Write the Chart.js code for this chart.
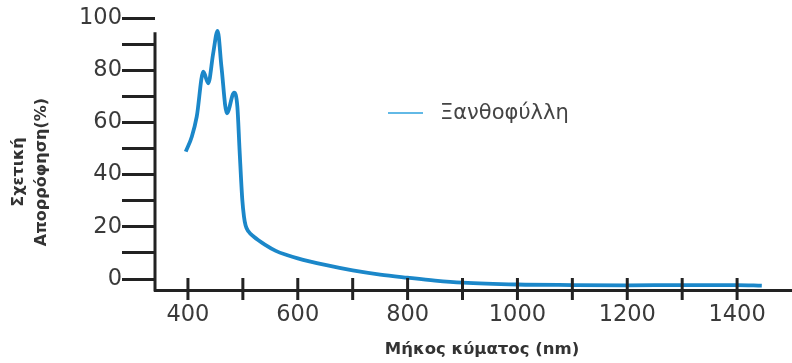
<!DOCTYPE html>
<html>
<head>
<meta charset="utf-8">
<script src="https://cdn.jsdelivr.net/npm/chart.js@4"></script>
<style>
  html, body { margin: 0; padding: 0; background: #fff; }
  #wrap { width: 792px; height: 363px; }
</style>
</head>
<body>
<div id="wrap"><canvas id="xanthChart"></canvas></div>
<script>
// wavelength (nm) and relative absorption (%)
const wavelengths = [396, 407, 416, 428, 437, 446, 454, 461, 471, 484, 490, 494, 499, 502, 505, 510, 520, 540, 560, 580, 600, 650, 700, 750, 800, 850, 900, 1000, 1100, 1200, 1300, 1400, 1445];
const absorption = [48.8, 54.5, 62.2, 79.4, 75, 86.5, 95.1, 81.3, 63.5, 71.4, 66, 49.4, 30.3, 24, 20.5, 18.3, 16.2, 13.2, 10.8, 9.2, 7.9, 5.4, 3.3, 1.7, 0.5, -0.6, -1.4, -2.1, -2.3, -2.4, -2.3, -2.3, -2.5];
const seriesLabel = 'Ξανθοφύλλη';

const xTickValues = [400, 500, 600, 700, 800, 900, 1000, 1100, 1200, 1300, 1400];
const xLabelValues = [400, 600, 800, 1000, 1200, 1400];
const yTickValues = [0, 10, 20, 30, 40, 50, 60, 70, 80, 90, 100];
const yLabelValues = [0, 20, 40, 60, 80, 100];

const xTitle = 'Μήκος κύματος (nm)';
const yTitle = ['Σχετική', 'Απορρόφηση(%)'];

const axisColor = '#222';
const textColor = '#3a3a3a';

// x ticks cross the axis line, the legend sits inside the plot,
// and the axis titles are off-centre in the original, so draw them here
const axisMarks = {
    id: 'axisMarks',
    afterDraw(chart) {
        const ctx = chart.ctx;
        const xs = chart.scales.x;
        const ys = chart.scales.y;
        const bottom = chart.chartArea.bottom;
        ctx.save();
        ctx.strokeStyle = axisColor;
        ctx.lineWidth = 3;
        xTickValues.forEach(v => {
            const px = xs.getPixelForValue(v);
            ctx.beginPath();
            ctx.moveTo(px, bottom - 12);
            ctx.lineTo(px, bottom + 10);
            ctx.stroke();
        });
        // y axis line (starts a bit below the 100 tick)
        ctx.beginPath();
        ctx.moveTo(chart.chartArea.left, ys.getPixelForValue(94.5));
        ctx.lineTo(chart.chartArea.left, bottom + 1.5);
        ctx.stroke();

        // legend
        const ds = chart.data.datasets[0];
        ctx.strokeStyle = '#62b9e6';
        ctx.lineWidth = 2;
        ctx.beginPath();
        ctx.moveTo(388, 113);
        ctx.lineTo(423, 113);
        ctx.stroke();
        ctx.fillStyle = '#444';
        ctx.font = '21px "DejaVu Sans", sans-serif';
        ctx.textBaseline = 'middle';
        ctx.textAlign = 'left';
        ctx.fillText(ds.label, 440, 114);

        // axis titles
        ctx.fillStyle = '#333';
        ctx.textAlign = 'center';
        ctx.font = 'bold 16.5px "DejaVu Sans", sans-serif';
        ctx.fillText(xTitle, 482, 350);
        ctx.font = 'bold 16px "DejaVu Sans", sans-serif';
        ctx.translate(0, 172);
        ctx.rotate(-Math.PI / 2);
        ctx.fillText(yTitle[0], 0, 19);
        ctx.fillText(yTitle[1], 0, 42);
        ctx.restore();
    }
};

const ctx = document.getElementById('xanthChart').getContext('2d');
new Chart(ctx, {
    type: 'line',
    data: {
        datasets: [{
            label: seriesLabel,
            data: wavelengths.map((w, i) => ({ x: w, y: absorption[i] })),
            borderColor: '#1b87c9',
            borderWidth: 3.8,
            pointRadius: 0,
            fill: false,
            cubicInterpolationMode: 'monotone'
        }]
    },
    options: {
        responsive: true,
        maintainAspectRatio: false,
        animation: false,
        layout: { padding: { top: 18, right: 0, left: 0, bottom: 0 } },
        plugins: {
            legend: { display: false },
            tooltip: { enabled: false }
        },
        scales: {
            x: {
                type: 'linear',
                min: 340,
                max: 1500,
                afterBuildTicks: s => { s.ticks = xTickValues.map(v => ({ value: v })); },
                afterFit: s => { s.height = 73; },
                ticks: {
                    autoSkip: false,
                    maxRotation: 0,
                    padding: 12,
                    color: textColor,
                    font: { family: 'DejaVu Sans', size: 22.5 },
                    callback: v => xLabelValues.includes(v) ? String(v) : ''
                },
                grid: { drawOnChartArea: false, drawTicks: false, color: axisColor },
                border: { display: true, color: axisColor, width: 3 }
            },
            y: {
                min: -4.2,
                max: 100,
                afterBuildTicks: s => { s.ticks = yTickValues.map(v => ({ value: v })); },
                afterFit: s => { s.width = 155; },
                ticks: {
                    autoSkip: false,
                    padding: 0,
                    color: textColor,
                    font: { family: 'DejaVu Sans', size: 22.5 },
                    callback: v => yLabelValues.includes(v) ? String(v) : ''
                },
                grid: { drawOnChartArea: false, tickLength: 33, lineWidth: 3, color: axisColor },
                border: { display: false }
            }
        }
    },
    plugins: [axisMarks]
});
</script>
</body>
</html>
